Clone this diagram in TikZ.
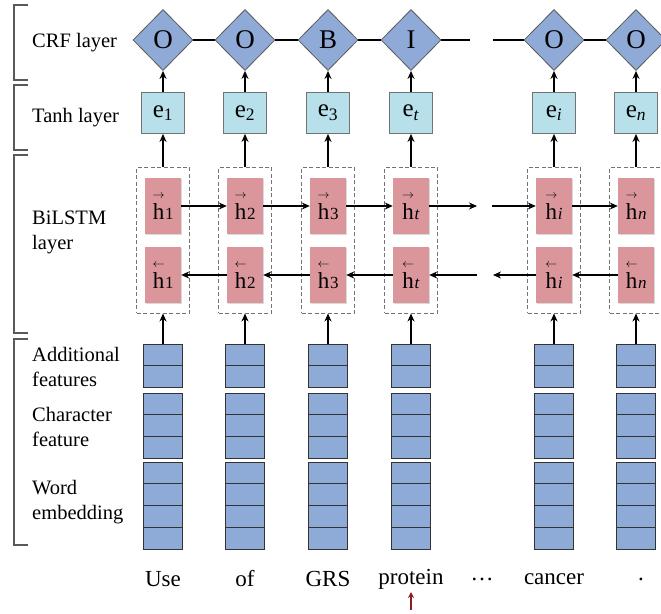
\documentclass[tikz,border=0pt]{standalone}
\usepackage{amsmath}
\usepackage{fontspec}
\setmainfont{Liberation Serif}
\usetikzlibrary{shapes.geometric,arrows.meta,shadows}
\definecolor{crfblue}{RGB}{143,170,214}
\definecolor{tanhcyan}{RGB}{183,224,234}
\definecolor{lstmred}{RGB}{218,150,155}
\definecolor{featblue}{RGB}{142,171,216}
\definecolor{darkred}{RGB}{140,30,30}
\newcommand\fwdh[1]{$\overset{\scriptscriptstyle\rightarrow}{\text{h}}$\kern0.5pt{\fontsize{17}{17}\selectfont #1}}
\newcommand\bwdh[1]{$\overset{\scriptscriptstyle\leftarrow}{\text{h}}$\kern0.5pt{\fontsize{17}{17}\selectfont #1}}
\begin{document}
\begin{tikzpicture}[x=1pt,y=-1pt,
  crfnode/.style={diamond, draw=black!65, line width=0.8pt, fill=crfblue, minimum width=60pt, minimum height=61pt, inner sep=0pt, font=\fontsize{27}{30}\selectfont},
  tanhnode/.style={rectangle, draw=black!55, line width=0.8pt, fill=tanhcyan, minimum width=43pt, minimum height=41pt, inner sep=0pt, font=\fontsize{25}{28}\selectfont},
  hnode/.style={rectangle, fill=lstmred, minimum width=36pt, minimum height=56pt, inner sep=0pt, font=\fontsize{23}{26}\selectfont, drop shadow={opacity=0.3, shadow xshift=1pt, shadow yshift=-1pt}},
  dashbox/.style={rectangle, draw=black!55, dashed, line width=1pt, dash pattern=on 4pt off 2.5pt, minimum width=53pt, minimum height=146pt, inner sep=0pt},
  cell/.style={rectangle, draw=black!80, line width=0.9pt, fill=featblue, minimum width=39pt, inner sep=0pt},
  arr/.style={-{Stealth[length=8pt,width=7pt]}, line width=1.8pt},
  plain/.style={line width=1.8pt},
  brk/.style={draw=black!65, line width=1.1pt},
  lab/.style={anchor=west, align=left, font=\fontsize{20.5}{25}\selectfont, inner sep=0pt},
  word/.style={font=\fontsize{23}{26}\selectfont, inner sep=0pt}
]
\useasboundingbox (0,0) rectangle (661,613);
\clip (0,0) rectangle (661,613);

% brackets
\draw[brk] (28,5) -- (14,5) -- (14,80) -- (28,80);
\draw[brk] (28,85) -- (14,85) -- (14,150) -- (28,150);
\draw[brk] (28,155) -- (14,155) -- (14,333) -- (28,333);
\draw[brk] (28,339) -- (14,339) -- (14,545) -- (28,545);

% labels
\node[lab] (lcrf) at (32,43) {CRF layer};
\node[lab] (ltanh) at (32,118) {Tanh layer};
\node[lab] (llstm) at (32,232) {BiLSTM\\layer};
\node[lab] (ladd) at (32,367) {Additional\\features};
\node[lab] (lchar) at (32,427) {Character\\feature};
\node[lab] (lword) at (32,502) {Word\\embedding};

% columns
\foreach \i/\x/\t/\s in {1/163/O/1, 2/245/O/2, 3/328/B/3, 4/411/I/\textit{t}, 5/554/O/\textit{i}, 6/636/O/\textit{n}} {
  \node[crfnode] (c\i) at (\x,40) {\t};
  \node[tanhnode] (e\i) at (\x,113) {e\textsubscript{\s}};
  \node[dashbox] (d\i) at (\x,240) {};
  \node[hnode] (hf\i) at (\x,206) {\fwdh{\s}};
  \node[hnode] (hb\i) at (\x,275) {\bwdh{\s}};
  % feature stack
  \node[cell, minimum height=21.5pt] (fa\i) at (\x,354.75) {};
  \node[cell, minimum height=21.5pt] (fb\i) at (\x,376.25) {};
  \node[cell, minimum height=21.67pt] (fc\i) at (\x,403.83) {};
  \node[cell, minimum height=21.67pt] (fd\i) at (\x,425.5) {};
  \node[cell, minimum height=21.67pt] (fe\i) at (\x,447.17) {};
  \node[cell, minimum height=21.75pt] (ff\i) at (\x,472.88) {};
  \node[cell, minimum height=21.75pt] (fg\i) at (\x,494.63) {};
  \node[cell, minimum height=21.75pt] (fh\i) at (\x,516.38) {};
  \node[cell, minimum height=21.75pt] (fi\i) at (\x,538.13) {};
  % vertical arrows
  \draw[arr] (fa\i.north) -- (d\i.south);
  \draw[arr] (d\i.north) -- (e\i.south);
  \draw[arr] (e\i.north) -- (c\i.south);
}

% CRF chain
\coordinate (cg1) at (470,40);
\coordinate (cg2) at (493,40);
\draw[plain] (c1.east) -- (c2.west);
\draw[plain] (c2.east) -- (c3.west);
\draw[plain] (c3.east) -- (c4.west);
\draw[plain] (c4.east) -- (cg1);
\draw[plain] (cg2) -- (c5.west);
\draw[plain] (c5.east) -- (c6.west);

% forward LSTM
\coordinate (fg1) at (477,206);
\coordinate (fg2) at (492,206);
\draw[arr] (hf1.east) -- (hf2.west);
\draw[arr] (hf2.east) -- (hf3.west);
\draw[arr] (hf3.east) -- (hf4.west);
\draw[arr] (hf4.east) -- (fg1);
\draw[arr] (fg2) -- (hf5.west);
\draw[arr] (hf5.east) -- (hf6.west);

% backward LSTM
\coordinate (bg1) at (477,275);
\coordinate (bg2) at (493,275);
\draw[arr] (hb2.west) -- (hb1.east);
\draw[arr] (hb3.west) -- (hb2.east);
\draw[arr] (hb4.west) -- (hb3.east);
\draw[arr] (bg1) -- (hb4.east);
\draw[arr] (hb5.west) -- (bg2);
\draw[arr] (hb6.west) -- (hb5.east);

% words
\node[word] (w1) at (163,579) {Use};
\node[word] (w2) at (245,579) {of};
\node[word] (w3) at (328,579) {GRS};
\node[word] (w4) at (411,579) {protein};
\node[word] (w5) at (482,579) {…};
\node[word] (w6) at (554,579) {cancer};
\node[word] (w7) at (641,579) {.};

% red marker arrow
\coordinate (ra1) at (411,610);
\coordinate (ra2) at (411,592);
\draw[-{Stealth[length=6pt,width=6pt]}, darkred, line width=1.6pt] (ra1) -- (ra2);
\end{tikzpicture}
\end{document}
